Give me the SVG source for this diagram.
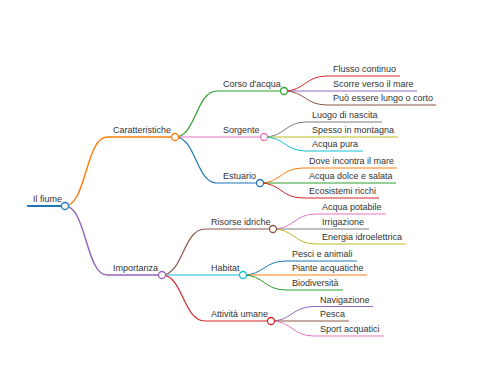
<svg xmlns="http://www.w3.org/2000/svg" width="480" height="384" viewBox="0 0 480 384">
<style>
text{font-family:"Liberation Sans",Arial,sans-serif;font-size:9px;fill:#333}
path,line{fill:none}
circle{fill:#fff;stroke-width:1.3}
.l0{stroke-width:2}
.l1{stroke-width:1.5}
.l2{stroke-width:1.2}
.l3{stroke-width:1}
</style>
<rect width="480" height="384" fill="#fff"/>
<g id="connectors">
<path class="l1" stroke="#ff7f0e" d="M65,206 C86,206 86,137 107,137"/>
<path class="l1" stroke="#9467bd" d="M65,206 C86,206 86,275 107,275"/>
<path class="l2" stroke="#2ca02c" d="M175,137 C196,137 196,91 217,91"/>
<path class="l2" stroke="#e377c2" d="M175,137 L217,137"/>
<path class="l2" stroke="#1f77b4" d="M175,137 C196,137 196,183 217,183"/>
<path class="l2" stroke="#8c564b" d="M162,275 C183,275 183,229 205,229"/>
<path class="l2" stroke="#17becf" d="M162,275 L205,275"/>
<path class="l2" stroke="#d62728" d="M162,275 C183,275 183,321 205,321"/>
<path class="l3" stroke="#d62728" d="M284,91 C305,91 305,76 327,76"/>
<path class="l3" stroke="#9467bd" d="M284,91 L327,91"/>
<path class="l3" stroke="#8c564b" d="M284,91 C305,91 305,105 327,105"/>
<path class="l3" stroke="#7f7f7f" d="M264,137 C285,137 285,122 306,122"/>
<path class="l3" stroke="#bcbd22" d="M264,137 L306,137"/>
<path class="l3" stroke="#17becf" d="M264,137 C285,137 285,151 306,151"/>
<path class="l3" stroke="#ff7f0e" d="M260,183 C281,183 281,168 303,168"/>
<path class="l3" stroke="#2ca02c" d="M260,183 L303,183"/>
<path class="l3" stroke="#d62728" d="M260,183 C281,183 281,198 303,198"/>
<path class="l3" stroke="#e377c2" d="M273,229 C294,229 294,214 316,214"/>
<path class="l3" stroke="#7f7f7f" d="M273,229 L316,229"/>
<path class="l3" stroke="#bcbd22" d="M273,229 C294,229 294,244 316,244"/>
<path class="l3" stroke="#1f77b4" d="M243,275 C264,275 264,261 286,261"/>
<path class="l3" stroke="#ff7f0e" d="M243,275 L286,275"/>
<path class="l3" stroke="#2ca02c" d="M243,275 C264,275 264,290 286,290"/>
<path class="l3" stroke="#9467bd" d="M271,321 C292,321 292,306.5 314,306.5"/>
<path class="l3" stroke="#8c564b" d="M271,321 L314,321"/>
<path class="l3" stroke="#e377c2" d="M271,321 C292,321 292,336 314,336"/>
</g>
<g id="n-root"><line class="l0" stroke="#1f77b4" x1="27" y1="206" x2="65" y2="206"/><circle cx="65" cy="206" r="3.5" stroke="#1f77b4"/><text x="33" y="202">Il fiume</text></g>
<g id="n-caratteristiche"><line class="l1" stroke="#ff7f0e" x1="107" y1="137" x2="175" y2="137"/><circle cx="175" cy="137" r="3.5" stroke="#ff7f0e"/><text x="113" y="133">Caratteristiche</text></g>
<g id="n-importanza"><line class="l1" stroke="#9467bd" x1="107" y1="275" x2="162" y2="275"/><circle cx="162" cy="275" r="3.5" stroke="#9467bd"/><text x="113" y="271">Importanza</text></g>
<g id="n-corso"><line class="l2" stroke="#2ca02c" x1="217" y1="91" x2="284" y2="91"/><circle cx="284" cy="91" r="3.5" stroke="#2ca02c"/><text x="223" y="87">Corso d'acqua</text></g>
<g id="n-sorgente"><line class="l2" stroke="#e377c2" x1="217" y1="137" x2="264" y2="137"/><circle cx="264" cy="137" r="3.5" stroke="#e377c2"/><text x="223" y="133">Sorgente</text></g>
<g id="n-estuario"><line class="l2" stroke="#1f77b4" x1="217" y1="183" x2="260" y2="183"/><circle cx="260" cy="183" r="3.5" stroke="#1f77b4"/><text x="223" y="179">Estuario</text></g>
<g id="n-risorse"><line class="l2" stroke="#8c564b" x1="205" y1="229" x2="273" y2="229"/><circle cx="273" cy="229" r="3.5" stroke="#8c564b"/><text x="211" y="225">Risorse idriche</text></g>
<g id="n-habitat"><line class="l2" stroke="#17becf" x1="205" y1="275" x2="243" y2="275"/><circle cx="243" cy="275" r="3.5" stroke="#17becf"/><text x="211" y="271">Habitat</text></g>
<g id="n-attivita"><line class="l2" stroke="#d62728" x1="205" y1="321" x2="271" y2="321"/><circle cx="271" cy="321" r="3.5" stroke="#d62728"/><text x="211" y="317">Attività umane</text></g>
<g id="n-flusso"><line class="l3" stroke="#d62728" x1="327" y1="76" x2="400" y2="76"/><text x="333" y="72">Flusso continuo</text></g>
<g id="n-scorre"><line class="l3" stroke="#9467bd" x1="327" y1="91" x2="417" y2="91"/><text x="333" y="87">Scorre verso il mare</text></g>
<g id="n-puo"><line class="l3" stroke="#8c564b" x1="327" y1="105" x2="436" y2="105"/><text x="333" y="101">Può essere lungo o corto</text></g>
<g id="n-luogo"><line class="l3" stroke="#7f7f7f" x1="306" y1="122" x2="382" y2="122"/><text x="312" y="118">Luogo di nascita</text></g>
<g id="n-spesso"><line class="l3" stroke="#bcbd22" x1="306" y1="137" x2="398" y2="137"/><text x="312" y="133">Spesso in montagna</text></g>
<g id="n-pura"><line class="l3" stroke="#17becf" x1="306" y1="151" x2="363" y2="151"/><text x="312" y="147">Acqua pura</text></g>
<g id="n-dove"><line class="l3" stroke="#ff7f0e" x1="303" y1="168" x2="397" y2="168"/><text x="309" y="164">Dove incontra il mare</text></g>
<g id="n-dolce"><line class="l3" stroke="#2ca02c" x1="303" y1="183" x2="396" y2="183"/><text x="309" y="179">Acqua dolce e salata</text></g>
<g id="n-ecosistemi"><line class="l3" stroke="#d62728" x1="303" y1="198" x2="379" y2="198"/><text x="309" y="194">Ecosistemi ricchi</text></g>
<g id="n-potabile"><line class="l3" stroke="#e377c2" x1="316" y1="214" x2="386" y2="214"/><text x="322" y="210">Acqua potabile</text></g>
<g id="n-irrigazione"><line class="l3" stroke="#7f7f7f" x1="316" y1="229" x2="369" y2="229"/><text x="322" y="225">Irrigazione</text></g>
<g id="n-energia"><line class="l3" stroke="#bcbd22" x1="316" y1="244" x2="406" y2="244"/><text x="322" y="240">Energia idroelettrica</text></g>
<g id="n-pesci"><line class="l3" stroke="#1f77b4" x1="286" y1="261" x2="357" y2="261"/><text x="292" y="257">Pesci e animali</text></g>
<g id="n-piante"><line class="l3" stroke="#ff7f0e" x1="286" y1="275" x2="367" y2="275"/><text x="292" y="271">Piante acquatiche</text></g>
<g id="n-biodiversita"><line class="l3" stroke="#2ca02c" x1="286" y1="290" x2="343" y2="290"/><text x="292" y="286">Biodiversità</text></g>
<g id="n-navigazione"><line class="l3" stroke="#9467bd" x1="314" y1="306.5" x2="373" y2="306.5"/><text x="320" y="302.5">Navigazione</text></g>
<g id="n-pesca"><line class="l3" stroke="#8c564b" x1="314" y1="321" x2="349" y2="321"/><text x="320" y="317">Pesca</text></g>
<g id="n-sport"><line class="l3" stroke="#e377c2" x1="314" y1="336" x2="384" y2="336"/><text x="320" y="332">Sport acquatici</text></g>
</svg>
